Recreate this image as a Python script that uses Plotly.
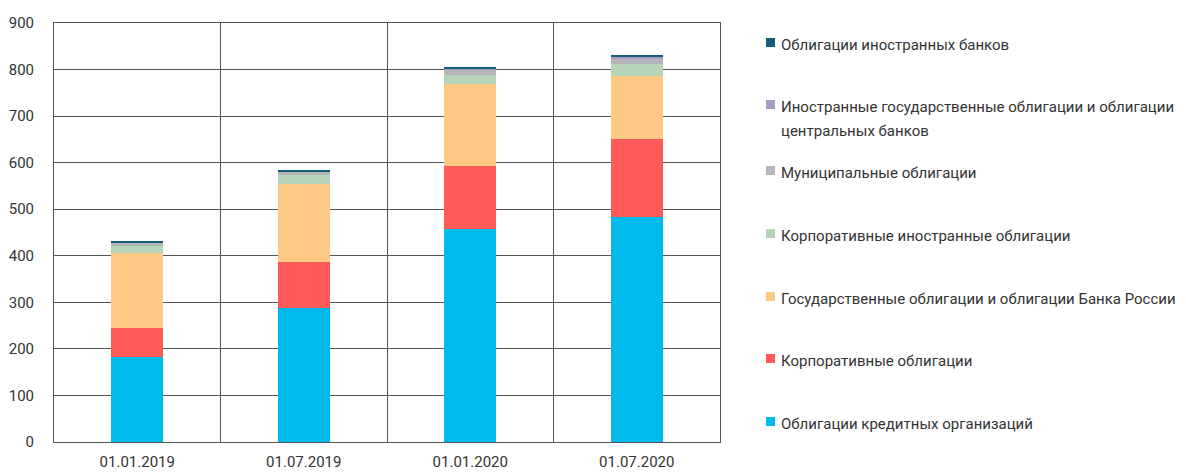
import plotly.graph_objects as go

dates = ["01.01.2019", "01.07.2019", "01.01.2020", "01.07.2020"]

series_names = [
    "Облигации кредитных организаций",
    "Корпоративные облигации",
    "Государственные облигации и облигации Банка России",
    "Корпоративные иностранные облигации",
    "Муниципальные облигации",
    "Иностранные государственные облигации и облигации центральных банков",
    "Облигации иностранных банков",
]
credit_org = [183, 288, 457, 484]
corporate = [61, 99, 135, 166]
government = [162, 168, 176, 136]
corp_foreign = [16, 18, 20, 25]
municipal = [6, 8, 13, 11]
foreign_gov = [1, 1, 0.5, 6]
foreign_banks = [1.5, 1.7, 3, 4]

values = [credit_org, corporate, government, corp_foreign, municipal, foreign_gov, foreign_banks]
colors = ["#00BAEB", "#FF5A5A", "#FEC985", "#B5D4B8", "#B6B6B8", "#A89CC4", "#135E78"]

x_pos = list(range(len(dates)))

# page body has an 8px default margin; compensate so the figure lands where the reference does
OFF = 8
W, H = 1186 - OFF, 473 - OFF
L, R, T, B = 54 - OFF, 720 - OFF, 23 - OFF, 442 - OFF

fig = go.Figure()
for name, vals, col in zip(series_names, values, colors):
    fig.add_trace(go.Bar(x=x_pos, y=vals, name=name, marker=dict(color=col, line=dict(width=0)),
                         width=0.31, showlegend=False))

grid = "#555555"
font = "Roboto, Arial, sans-serif"
fig.update_layout(
    width=W, height=H, barmode="stack",
    margin=dict(l=L, r=W - R, t=T, b=H - B, pad=0, autoexpand=False),
    plot_bgcolor="white", paper_bgcolor="white",
    font=dict(family=font, size=15, color="#333333"),
    xaxis=dict(range=[-0.5, 3.5], tickvals=x_pos, ticktext=dates, showgrid=False,
               showline=True, linecolor=grid, linewidth=1, mirror=True, zeroline=False,
               ticks="", ticklabelstandoff=6, tickfont=dict(size=15, color="#333333"),
               minor=dict(tickvals=[0.5, 1.5, 2.5], showgrid=True, gridcolor=grid, gridwidth=1, ticks="")),
    yaxis=dict(range=[0, 900], tickvals=list(range(0, 901, 100)), showgrid=True, gridcolor=grid,
               gridwidth=1, showline=True, linecolor=grid, linewidth=1, mirror=True, zeroline=False,
               ticks="", ticklabelstandoff=16, tickfont=dict(size=15, color="#333333")),
)

def px_x(p):
    return (p - OFF - L) / (R - L)

def px_y(p):
    return (B - (p - OFF)) / (B - T)

legend_items = [
    (6, ["Облигации иностранных банков"], 45),
    (5, ["Иностранные государственные облигации и облигации", "центральных банков"], 107),
    (4, ["Муниципальные облигации"], 173),
    (3, ["Корпоративные иностранные облигации"], 236),
    (2, ["Государственные облигации и облигации Банка России"], 299),
    (1, ["Корпоративные облигации"], 361),
    (0, ["Облигации кредитных организаций"], 424),
]
for idx, lines, yc in legend_items:
    fig.add_shape(type="rect", xref="paper", yref="paper",
                  x0=px_x(766), x1=px_x(775), y0=px_y(yc + 2), y1=px_y(yc - 7),
                  fillcolor=colors[idx], line=dict(width=0))
    for k, line in enumerate(lines):
        fig.add_annotation(xref="paper", yref="paper", x=px_x(779), y=px_y(yc + k * 24),
                           text=line, showarrow=False, xanchor="left", yanchor="middle",
                           font=dict(family=font, size=15, color="#333333"))

fig.write_html("out.html")
